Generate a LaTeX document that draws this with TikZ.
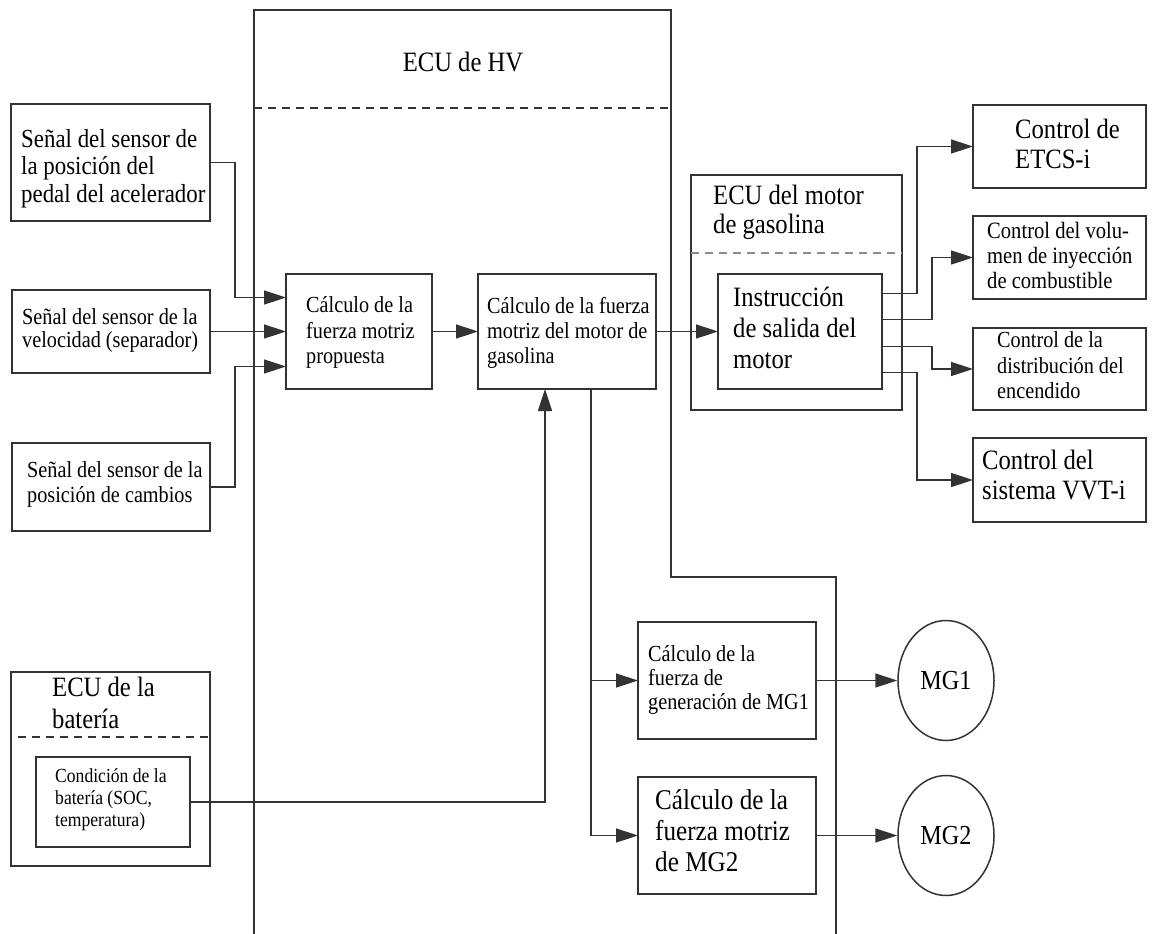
\documentclass[tikz,border=0pt]{standalone}
\usepackage{fontspec}
\setmainfont{Liberation Serif}
\usetikzlibrary{arrows.meta,calc,shapes.geometric}

% condensed multi-line label: size, line skip, lines
\newcommand\lbl[3]{\scalebox{0.88}[1]{\fontsize{#1}{#2}\selectfont\begin{tabular}{@{}l@{}}#3\end{tabular}}}

\tikzset{
  line/.style={draw=black!80, line width=1.5pt},
  box/.style={line, rectangle, inner sep=0pt, outer sep=0pt, anchor=north west},
  lbl/.style={inner sep=0pt, anchor=west, text=black},
  arr/.style={line, -{Triangle[length=22pt,width=14pt]}},
  sep/.style={draw=black!80, line width=1.5pt, dash pattern=on 8pt off 6pt},
  motor/.style={line, ellipse, minimum width=96pt, minimum height=120pt, inner sep=0pt},
}

\begin{document}
\begin{tikzpicture}[x=1pt,y=-1pt]
\useasboundingbox (0,0) rectangle (1152,934);

% ECU de HV outline
\draw[line] (254,934) -- (254,10) -- (671,10) -- (671,577) -- (836,577) -- (836,934);
\draw[sep] (254,108) -- (671,108);
\node[inner sep=0pt] (hvT) at (463,62) {\scalebox{0.88}[1]{\fontsize{28}{30}\selectfont ECU de HV}};

% sensor signals
\node[box, minimum width=199pt, minimum height=117pt] (sA) at (11,104) {};
\node[lbl] at (21,169) {\lbl{26}{27.5}{Señal del sensor de\\la posición del\\pedal del acelerador}};
\node[box, minimum width=198pt, minimum height=83pt] (sB) at (12,290) {};
\node[lbl] at (22,331.5) {\lbl{23}{23.5}{Señal del sensor de la\\velocidad (separador)}};
\node[box, minimum width=198pt, minimum height=88pt] (sC) at (12,443) {};
\node[lbl] at (27,485) {\lbl{23}{25}{Señal del sensor de la\\posición de cambios}};

% HV ECU calculations
\node[box, minimum width=146pt, minimum height=115pt] (B) at (286,274) {};
\node[lbl] at (306,333) {\lbl{23}{25.5}{Cálculo de la\\fuerza motriz\\propuesta}};
\node[box, minimum width=178pt, minimum height=115pt] (C) at (478,274) {};
\node[lbl] at (487,333) {\lbl{23}{25}{Cálculo de la fuerza\\motriz del motor de\\gasolina}};

% engine ECU
\node[box, minimum width=211pt, minimum height=235pt] (E) at (691,175) {};
\node[lbl] at (713,213.5) {\lbl{28}{29}{ECU del motor\\de gasolina}};
\draw[sep, draw=black!45] (691,253) -- (902,253);
\node[box, minimum width=164pt, minimum height=115pt] (D) at (718,274) {};
\node[lbl] at (733,331) {\lbl{28}{31}{Instrucción\\de salida del\\motor}};

% engine controls
\node[box, minimum width=173pt, minimum height=83pt] (R1) at (973,105) {};
\node[lbl] at (1015,147) {\lbl{28}{30}{Control de\\ETCS-i}};
\node[box, minimum width=173pt, minimum height=83pt] (R2) at (973,216) {};
\node[lbl] at (987,258) {\lbl{23.4}{25}{Control del volu-\\men de inyección\\de combustible}};
\node[box, minimum width=173pt, minimum height=82pt] (R3) at (973,328) {};
\node[lbl] at (997,368) {\lbl{23}{25.5}{Control de la\\distribución del\\encendido}};
\node[box, minimum width=173pt, minimum height=84pt] (R4) at (973,438) {};
\node[lbl] at (982,478) {\lbl{28}{30}{Control del\\sistema VVT-i}};

% battery ECU
\node[box, minimum width=199pt, minimum height=194pt] (BE) at (11,672) {};
\node[lbl] at (52,706) {\lbl{28}{32}{ECU de la\\batería}};
\draw[sep] (18,737) -- (210,737);
\node[box, minimum width=154pt, minimum height=90pt] (BI) at (36,757) {};
\node[lbl] at (55,800) {\lbl{20}{22}{Condición de la\\batería (SOC,\\temperatura)}};

% motor generator calculations
\node[box, minimum width=178pt, minimum height=117pt] (M1) at (638,622) {};
\node[lbl] at (648,681) {\lbl{23}{24}{Cálculo de la\\fuerza de\\generación de MG1}};
\node[box, minimum width=178pt, minimum height=117pt] (M2) at (638,777) {};
\node[lbl] at (655,834) {\lbl{28.6}{31}{Cálculo de la\\fuerza motriz\\de MG2}};

% motor generators
\node[motor] (G1) at (946,680.5) {\scalebox{0.88}[1]{\fontsize{27.5}{29}\selectfont MG1}};
\node[motor] (G2) at (946,835.5) {\scalebox{0.88}[1]{\fontsize{27.5}{29}\selectfont MG2}};

% signal flow
\draw[arr] (sA.east) -- ++(25,0) |- ([yshift=34pt]B.west);
\draw[arr] (sB.east) -- (B.west);
\draw[arr] (sC.east) -- ++(25,0) |- ([yshift=-35pt]B.west);
\draw[arr] (B.east) -- (C.west);
\draw[arr] (C.east) -- (D.west);

\draw[arr] ([yshift=38pt]D.east) -- ++(35,0) |- (R1.west);
\draw[arr] ([yshift=12pt]D.east) -- ++(50,0) |- (R2.west);
\draw[arr] ([yshift=-15pt]D.east) -- ++(50,0) |- (R3.west);
\draw[arr] ([yshift=-41pt]D.east) -- ++(35,0) |- (R4.west);

\draw[arr] (BI.east) -| ([xshift=-22pt]C.south);

\coordinate (cdown) at ([xshift=24pt]C.south);
\draw[arr] (cdown) |- (M2.west);
\draw[arr] (cdown |- M1.west) -- (M1.west);

\draw[arr] (M1.east) -- (G1.west);
\draw[arr] (M2.east) -- (G2.west);
\end{tikzpicture}
\end{document}
